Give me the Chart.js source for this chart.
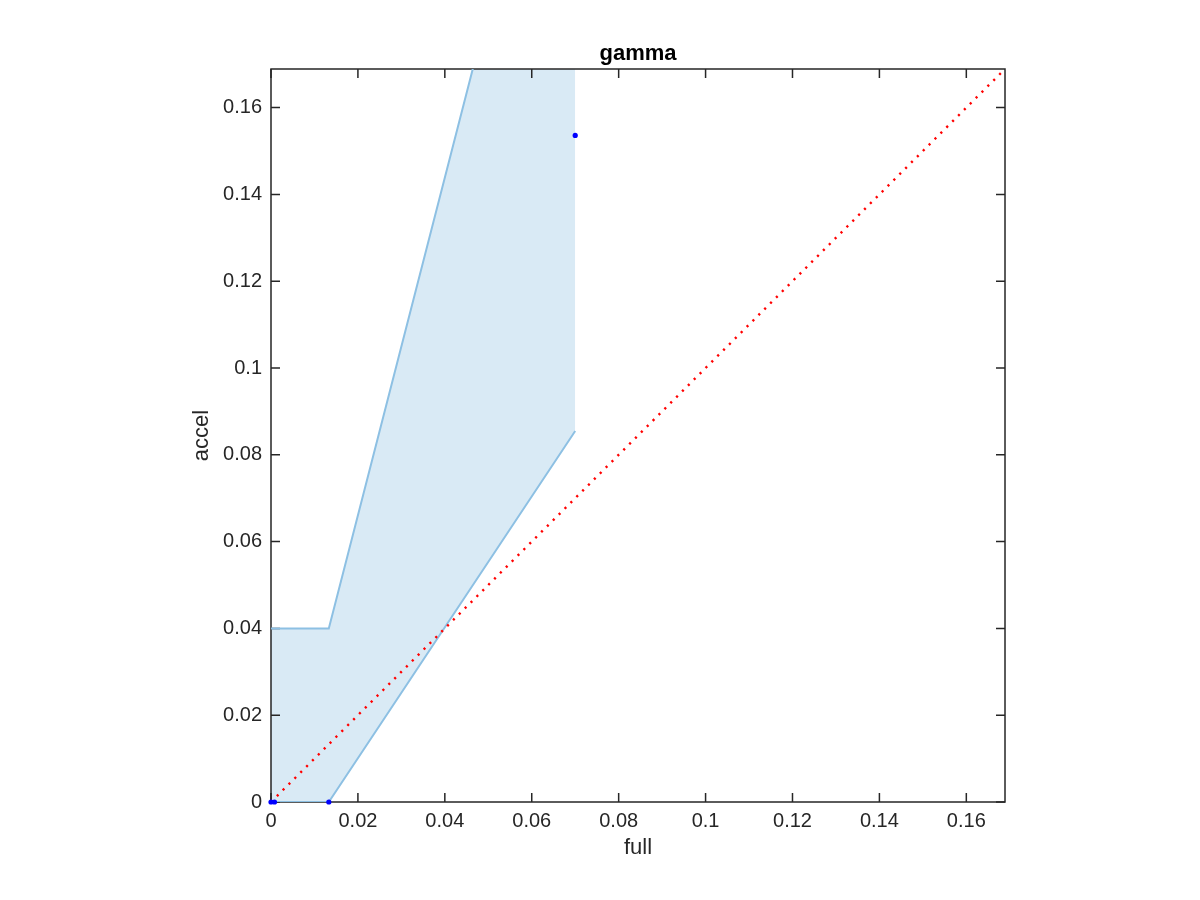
<!DOCTYPE html>
<html>
<head>
<meta charset="utf-8">
<script src="https://cdn.jsdelivr.net/npm/chart.js@4/dist/chart.umd.min.js"></script>
<style>
  html, body { margin: 0; padding: 0; background: #fff; }
  #gamma { display: block; }
</style>
</head>
<body>
<canvas id="gamma" width="1200" height="900"></canvas>
<script>
// measured points (full vs accel)
const fullVals = [0, 0.0008, 0.0133, 0.07]
const accelVals = [0, 0, 0, 0.1536]
// confidence band
const bandX = [0, 0.0133, 0.07]
const bandLow = [0, 0, 0.0855]
const bandHigh = [0.04, 0.04, 0.2606]
// y = x reference line
const diagVals = [0, 0.1689]
const axisMax = 0.1689
const tickVals = [0, 0.02, 0.04, 0.06, 0.08, 0.1, 0.12, 0.14, 0.16]
const tickLabels = ['0', '0.02', '0.04', '0.06', '0.08', '0.1', '0.12', '0.14', '0.16']

const FONT = "'Liberation Sans', Arial, Helvetica, sans-serif"
const AXIS_COLOR = '#262626'

const pts = (xs, ys) => xs.map((x, i) => ({x: x, y: ys[i]}))
const labelFor = (value) => {
  const i = tickVals.findIndex(t => Math.abs(t - value) < 1e-9)
  return i < 0 ? '' : tickLabels[i]
}

// MATLAB style box with inward ticks on all four sides
const frameTicks = {
  id: 'frameTicks',
  beforeDatasetsDraw(chart) {
    const {ctx, chartArea: a, scales: {x, y}} = chart
    const len = 9
    ctx.save()
    ctx.strokeStyle = AXIS_COLOR
    ctx.lineWidth = 1.5
    ctx.strokeRect(a.left, a.top, a.right - a.left, a.bottom - a.top)
    ctx.beginPath()
    x.ticks.forEach(t => {
      const px = x.getPixelForValue(t.value)
      ctx.moveTo(px, a.bottom); ctx.lineTo(px, a.bottom - len)
      ctx.moveTo(px, a.top); ctx.lineTo(px, a.top + len)
    })
    y.ticks.forEach(t => {
      const py = y.getPixelForValue(t.value)
      ctx.moveTo(a.left, py); ctx.lineTo(a.left + len, py)
      ctx.moveTo(a.right, py); ctx.lineTo(a.right - len, py)
    })
    ctx.stroke()
    ctx.restore()
  }
}

const axisOpts = (title, pad) => ({
  type: 'linear',
  min: 0,
  max: axisMax,
  afterBuildTicks: scale => { scale.ticks = tickVals.map(v => ({value: v})) },
  ticks: {
    color: AXIS_COLOR,
    font: {family: FONT, size: 20},
    padding: pad,
    maxRotation: 0,
    autoSkip: false,
    callback: value => labelFor(value)
  },
  grid: {display: false, drawTicks: false},
  border: {display: false},
  title: {
    display: true,
    text: title,
    color: AXIS_COLOR,
    font: {family: FONT, size: 22},
    padding: {top: 4, bottom: 4}
  }
})

const xAxis = axisOpts('full', 7)
xAxis.afterFit = scale => { scale.height = 63 }
const yAxis = axisOpts('accel', 9)
yAxis.afterFit = scale => { scale.width = 86 }

new Chart(document.getElementById('gamma'), {
  type: 'scatter',
  data: {
    datasets: [
      {
        label: 'points',
        data: pts(fullVals, accelVals),
        showLine: false,
        pointRadius: 2.6,
        pointBackgroundColor: '#0000ff',
        pointBorderWidth: 0,
        clip: false,
        order: 0
      },
      {
        label: 'diag',
        data: pts(diagVals, diagVals),
        showLine: true,
        borderColor: '#ff0000',
        borderWidth: 2.4,
        borderDash: [2.2, 6.1],
        pointRadius: 0,
        fill: false,
        order: 1
      },
      {
        label: 'lower',
        data: pts(bandX, bandLow),
        showLine: true,
        borderColor: '#8dc0e3',
        borderWidth: 2,
        pointRadius: 0,
        fill: false,
        order: 3
      },
      {
        label: 'upper',
        data: pts(bandX, bandHigh),
        showLine: true,
        borderColor: '#8dc0e3',
        borderWidth: 2,
        pointRadius: 0,
        fill: '-1',
        backgroundColor: 'rgba(0, 114, 189, 0.15)',
        order: 2
      }
    ]
  },
  options: {
    responsive: false,
    devicePixelRatio: 1,
    animation: false,
    layout: {padding: {left: 185, right: 195, top: 0, bottom: 35}},
    plugins: {
      legend: {display: false},
      tooltip: {enabled: false},
      filler: {drawTime: 'beforeDatasetsDraw'},
      title: {
        display: true,
        text: 'gamma',
        fullSize: false,
        color: '#000',
        font: {family: FONT, size: 22, weight: 'bold'},
        padding: {top: 41, bottom: 1.6}
      }
    },
    scales: {x: xAxis, y: yAxis}
  },
  plugins: [frameTicks]
})
</script>
</body>
</html>
